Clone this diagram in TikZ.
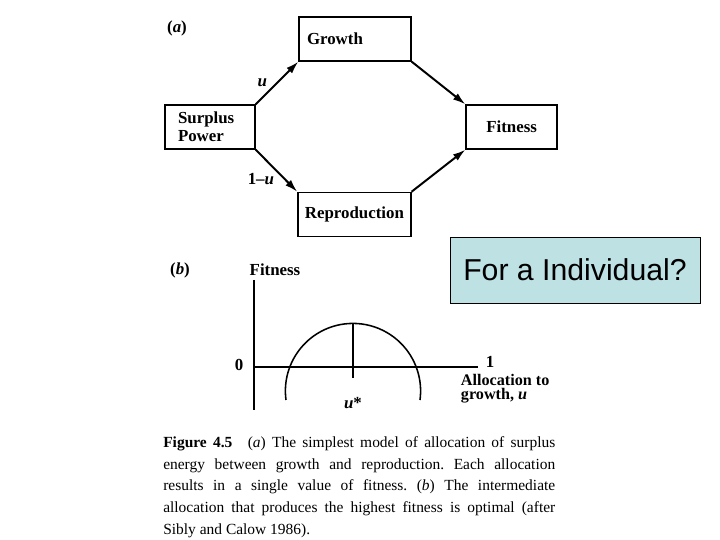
\documentclass[tikz,border=0pt]{standalone}
\usepackage{fontspec}
\setmainfont{Liberation Serif}
\newfontfamily\arialfont{Liberation Sans}
\usetikzlibrary{arrows.meta}
\definecolor{indiv}{RGB}{190,225,228}

\begin{document}
\frenchspacing
\begin{tikzpicture}[>={Latex[length=9pt, width=5.5pt]},
	box/.style={draw, line width=0.9pt, minimum height=1.1cm, inner sep=0pt, font=\fontsize{12}{13}\selectfont\bfseries},
	flow/.style={->, line width=1.4pt},
	axis/.style={line width=1.4pt},
	lbl/.style={font=\fontsize{12}{13}\selectfont\bfseries}]
			\useasboundingbox (0,0) rectangle (18,13.5);
			% (a) allocation scheme
			\node[lbl] (parta) at (4.425,12.8) {(\textit{a})};
			\node[box, minimum width=2.8cm, text width=2.4cm, align=left] (growth) at (8.875,12.525) {Growth};
			\node[box, minimum width=2.25cm, text width=1.6cm, align=left] (surplus) at (5.25,10.325) {Surplus\\Power};
			\node[box, minimum width=2.275cm] (fitness) at (12.79,10.325) {Fitness};
			\node[box, minimum width=2.825cm] (repro) at (8.86,8.14) {Reproduction};
			\draw[flow] (surplus.north east) -- node[midway, left, lbl, xshift=-3pt]{\textit{u}} (growth.south west);
			\draw[flow] (surplus.south east) -- node[midway, below left, lbl, inner sep=1pt]{1--\textit{u}} (repro.north west);
			\draw[flow] (growth.south east) -- (fitness.north west);
			\draw[flow] (repro.north east) -- (fitness.south west);
			% question box
			\node[draw, line width=0.7pt, fill=indiv, minimum width=6.25cm, minimum height=1.65cm, font=\arialfont\fontsize{21.5}{24}\selectfont] (question) at (14.375,6.75) {For a Individual?};
			% (b) fitness curve
			\node[lbl] (partb) at (4.5,6.75) {(\textit{b})};
			\node[lbl] (fitlabel) at (6.875,6.75) {Fitness};
			\coordinate (top) at (6.35,6.5);
			\coordinate (bottom) at (6.35,3.25);
			\coordinate (origin) at (6.35,4.325);
			\coordinate (axisend) at (11.95,4.325);
			\draw[axis] (top) -- (bottom);
			\draw[axis] (origin) -- (axisend);
			\node[lbl] (zero) at (5.975,4.375) {0};
			\node[lbl] (one) at (12.25,4.45) {1};
			\node[anchor=west, align=left, font=\fontsize{11.5}{10}\selectfont\bfseries] (alloc) at (11.4,3.79) {Allocation to\\growth, \textit{u}};
			\draw[line width=1.1pt] (7.15,3.5) arc[start angle=187.65, end angle=-7.65, radius=1.69];
			\coordinate (peak) at (8.825,5.415);
			\coordinate (peakfoot) at (8.825,4.05);
			\draw[axis] (peak) -- (peakfoot);
			\node[lbl] (ustar) at (8.825,3.425) {\textit{u}*};
			% caption
			\node[anchor=north west, inner sep=0pt, text width=9.8cm, align=justify, font=\fontsize{11}{15.3}\selectfont] (caption) at (4.075,2.58) {\textbf{Figure 4.5}\quad(\textit{a}) The simplest model of allocation of surplus\linebreak energy between growth and reproduction. Each allocation\linebreak results in a single value of fitness. (\textit{b}) The intermediate\linebreak allocation that produces the highest fitness is optimal (after\linebreak Sibly and Calow 1986).};
		\end{tikzpicture}
\end{document}
